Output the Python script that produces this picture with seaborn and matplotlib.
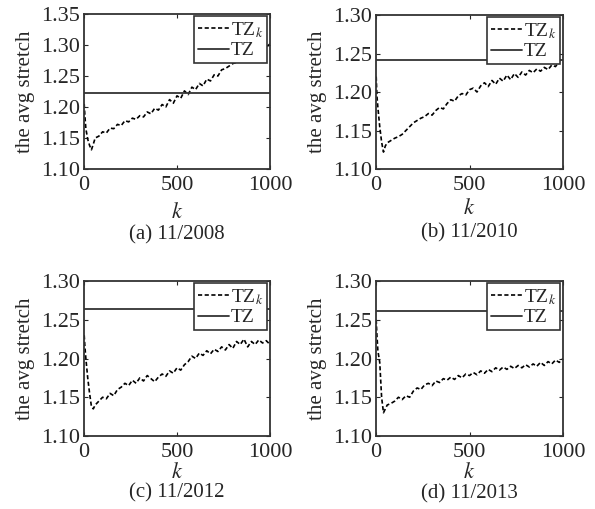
import matplotlib
matplotlib.use("Agg")
import matplotlib.pyplot as plt
import seaborn as sns
import pandas as pd

K = [1, 5, 10, 20, 30, 40, 50,
     60, 80, 100, 120, 140, 160, 180, 200, 220, 240,
     260, 280, 300, 320, 340, 360, 380, 400, 420, 440,
     460, 480, 500, 520, 540, 560, 580, 600, 620, 640,
     660, 680, 700, 720, 740, 760, 780, 800, 820, 840,
     860, 880, 900, 920, 940, 960, 980, 1000]

tzk_2008 = [1.205, 1.185, 1.165, 1.148, 1.138, 1.131, 1.140,
            1.150, 1.153, 1.160, 1.158, 1.166, 1.165, 1.172, 1.170, 1.178, 1.176,
            1.182, 1.180, 1.186, 1.184, 1.192, 1.189, 1.198, 1.195, 1.204, 1.200,
            1.212, 1.206, 1.218, 1.214, 1.226, 1.220, 1.232, 1.228, 1.238, 1.234,
            1.245, 1.242, 1.252, 1.250, 1.260, 1.262, 1.266, 1.270, 1.272, 1.276,
            1.278, 1.282, 1.284, 1.288, 1.290, 1.294, 1.296, 1.302]

tzk_2010 = [1.220, 1.195, 1.180, 1.155, 1.135, 1.122, 1.130,
            1.134, 1.137, 1.140, 1.142, 1.145, 1.150, 1.155, 1.160, 1.163, 1.166,
            1.168, 1.172, 1.170, 1.176, 1.180, 1.178, 1.185, 1.190, 1.188, 1.195,
            1.198, 1.196, 1.203, 1.205, 1.200, 1.208, 1.212, 1.207, 1.215, 1.210,
            1.218, 1.214, 1.222, 1.216, 1.224, 1.219, 1.226, 1.222, 1.228, 1.225,
            1.230, 1.227, 1.232, 1.229, 1.235, 1.233, 1.240, 1.245]

tzk_2012 = [1.230, 1.215, 1.200, 1.175, 1.155, 1.138, 1.135,
            1.140, 1.145, 1.150, 1.148, 1.155, 1.152, 1.160, 1.163, 1.168, 1.165,
            1.172, 1.168, 1.175, 1.171, 1.178, 1.174, 1.170, 1.176, 1.180, 1.177,
            1.184, 1.181, 1.188, 1.185, 1.192, 1.196, 1.203, 1.200, 1.207, 1.204,
            1.210, 1.206, 1.212, 1.209, 1.215, 1.211, 1.218, 1.213, 1.222, 1.218,
            1.225, 1.215, 1.222, 1.218, 1.224, 1.220, 1.223, 1.218]

tzk_2013 = [1.250, 1.230, 1.210, 1.195, 1.150, 1.130, 1.135,
            1.140, 1.142, 1.145, 1.150, 1.147, 1.152, 1.150, 1.158, 1.162, 1.160,
            1.166, 1.168, 1.165, 1.171, 1.169, 1.174, 1.172, 1.176, 1.173, 1.178,
            1.175, 1.180, 1.178, 1.182, 1.179, 1.184, 1.181, 1.186, 1.183, 1.188,
            1.185, 1.189, 1.186, 1.190, 1.187, 1.191, 1.188, 1.192, 1.189, 1.193,
            1.190, 1.195, 1.191, 1.196, 1.193, 1.198, 1.195, 1.200]

tz_values = [1.222, 1.241, 1.264, 1.261]
captions = ["(a) 11/2008", "(b) 11/2010", "(c) 11/2012", "(d) 11/2013"]
y_ticks = [[1.10, 1.15, 1.20, 1.25, 1.30, 1.35],
           [1.10, 1.15, 1.20, 1.25, 1.30],
           [1.10, 1.15, 1.20, 1.25, 1.30],
           [1.10, 1.15, 1.20, 1.25, 1.30]]

sns.set_style("ticks")
plt.rcParams["font.family"] = ["Liberation Serif", "DejaVu Serif"]
plt.rcParams["mathtext.fontset"] = "stix"

W, H = 595, 509
fig = plt.figure(figsize=(W / 100, H / 100), dpi=100)

# axes boxes in pixels: left, top, right, bottom
boxes = [(84, 14, 270, 169), (376, 15, 563, 169),
         (84, 281, 270, 436), (376, 281, 563, 436)]
caption_y = [235, 233, 493, 494]
k_label_pad = [6, 3, 1, 1]
series = [tzk_2008, tzk_2010, tzk_2012, tzk_2013]

for i, (l, t, r, b) in enumerate(boxes):
    ax = fig.add_axes([l / W, 1 - b / H, (r - l) / W, (b - t) / H])
    df = pd.DataFrame({"k": K, "stretch": series[i]})
    sns.lineplot(data=df, x="k", y="stretch", ax=ax, color="black",
                 linestyle=(0, (2.5, 1.5)), linewidth=1.2, label="TZ$_k$")
    ax.axhline(tz_values[i], color="#333333", linewidth=1.3, label="TZ")
    ax.set_xlim(0, 1000)
    ax.set_ylim(y_ticks[i][0], y_ticks[i][-1])
    ax.set_xticks([0, 500, 1000])
    ax.set_yticks(y_ticks[i])
    ax.yaxis.set_major_formatter(plt.FormatStrFormatter("%.2f"))
    ax.tick_params(direction="in", top=True, right=True, length=3,
                   width=0.8, labelsize=16)
    ax.tick_params(axis="x", pad=5)
    ax.tick_params(axis="y", pad=3)
    for s in ax.spines.values():
        s.set_linewidth(1.3)
        s.set_color("#333333")
    ax.set_xlabel("$k$", fontsize=16, labelpad=k_label_pad[i])
    ax.set_ylabel("the avg stretch", fontsize=15, labelpad=4)
    leg = ax.legend(loc="upper right", bbox_to_anchor=(0.985, 0.985),
                    borderaxespad=0, fontsize=14, frameon=True, fancybox=False,
                    handlelength=1.6, handletextpad=0.1, borderpad=0.2,
                    labelspacing=0.1)
    leg.get_frame().set_edgecolor("#333333")
    leg.get_frame().set_linewidth(1.2)
    leg.get_frame().set_alpha(1)
    fig.text((l + r) / 2 / W, 1 - caption_y[i] / H, captions[i],
             ha="center", va="center", fontsize=15)

fig.savefig("out.png", dpi=100)
